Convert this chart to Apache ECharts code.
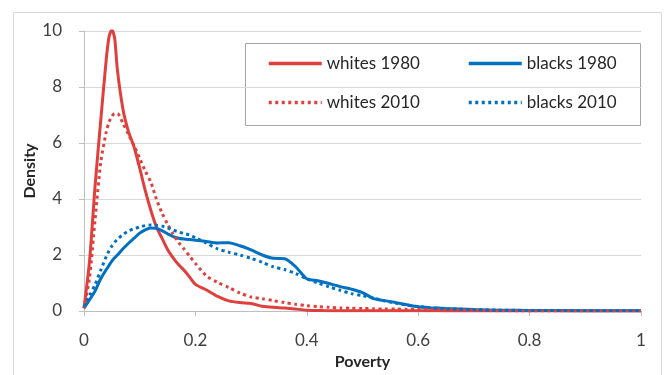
<!DOCTYPE html>
<html>
<head>
<meta charset="utf-8">
<script src="https://cdn.jsdelivr.net/npm/echarts@6/dist/echarts.min.js"></script>
<style>
html,body{margin:0;padding:0;background:#fff;}
#chart{width:664px;height:375px;}
</style>
</head>
<body>
<div id="chart"></div>
<script>
const povertyX = [0,0.01,0.02,0.03,0.04,0.045,0.05,0.055,0.06,0.07,0.08,0.09,0.10,0.11,0.12,0.13,0.14,0.15,0.16,0.17,0.18,0.19,0.20,0.22,0.24,0.26,0.28,0.30,0.32,0.34,0.36,0.38,0.40,0.42,0.44,0.46,0.48,0.50,0.52,0.54,0.56,0.58,0.60,0.62,0.65,0.70,0.75,0.80,0.90,1.0];
const whites1980 = [0.1,1.8,4.5,6.8,9.0,9.8,10.05,9.75,8.6,7.2,6.4,5.85,5.1,4.3,3.6,3.0,2.6,2.2,1.9,1.65,1.45,1.2,0.95,0.75,0.52,0.36,0.3,0.27,0.17,0.13,0.11,0.07,0.03,0.02,0.01,0.01,0.01,0.01,0.01,0.01,0.01,0.01,0.01,0.01,0,0,0,0,0,0];
const blacks1980 = [0.1,0.4,0.72,1.15,1.48,1.63,1.78,1.9,2.0,2.22,2.42,2.6,2.78,2.9,2.96,2.95,2.87,2.76,2.66,2.6,2.57,2.55,2.53,2.48,2.43,2.44,2.33,2.18,2.0,1.88,1.87,1.58,1.15,1.08,0.98,0.87,0.78,0.66,0.44,0.37,0.3,0.22,0.15,0.12,0.09,0.05,0.03,0.02,0.01,0.01];
const whites2010 = [0.1,1.2,3.3,5.3,6.4,6.75,6.95,7.05,7.05,6.7,6.3,5.9,5.45,5.0,4.6,4.0,3.5,3.1,2.75,2.45,2.2,1.95,1.7,1.25,1.02,0.84,0.64,0.5,0.44,0.37,0.3,0.24,0.19,0.16,0.13,0.11,0.1,0.09,0.08,0.07,0.07,0.06,0.06,0.05,0.04,0.02,0.01,0,0,0];
const blacks2010 = [0.15,0.55,0.95,1.45,1.95,2.15,2.32,2.45,2.56,2.73,2.86,2.94,3.0,3.05,3.07,3.06,3.03,2.97,2.89,2.82,2.77,2.71,2.62,2.42,2.22,2.1,2.0,1.88,1.74,1.58,1.48,1.34,1.15,1.0,0.86,0.74,0.62,0.55,0.46,0.36,0.28,0.21,0.16,0.12,0.08,0.05,0.03,0.02,0.01,0.01];
const seriesNames = ['whites 1980','blacks 1980','whites 2010','blacks 2010'];
const xTicks = [0,0.2,0.4,0.6,0.8,1];
const yTicks = [0,2,4,6,8,10];

const RED = '#E0403D', BLUE = '#0070C0';
const FONT = 'Lato';
const pairs = arr => povertyX.map((x,i)=>[x, arr[i]]);
function mk(name, arr, color, dotted){
  return {
    name, type:'line', data:pairs(arr), showSymbol:false, symbol:'none', smooth:0.25,
    lineStyle:{color, width:3, type: dotted ? [3,3.5] : 'solid', cap:'butt'},
    itemStyle:{color}, z: dotted ? 3 : 2, silent:true
  };
}
const legendBase = {orient:'vertical', top:50, itemWidth:53, itemHeight:14, itemGap:22,
  itemStyle:{opacity:0, borderWidth:0},
  lineStyle:{width:3.5},
  textStyle:{fontFamily:FONT, fontSize:17, color:'#262626'}, selectedMode:false};
const chart = echarts.init(document.getElementById('chart'), null, {renderer:'canvas'});
chart.setOption({
  animation:false,
  backgroundColor:'#fff',
  textStyle:{fontFamily:FONT},
  grid:{left:84, right:23, top:31, bottom:64, containLabel:false},
  xAxis:{
    type:'value', min:0, max:1, interval:0.2,
    name:'Poverty', nameLocation:'middle', nameGap:43, nameMoveOverlap:false,
    nameTextStyle:{fontFamily:FONT, fontSize:16, fontWeight:'bold', color:'#262626'},
    axisLine:{show:true, lineStyle:{color:'#bfbfbf', width:1}},
    axisTick:{show:true, length:5, lineStyle:{color:'#bfbfbf'}},
    axisLabel:{fontFamily:FONT, fontSize:17, color:'#404040', margin:21, formatter:v=>String(+v.toFixed(1))},
    splitLine:{show:false}
  },
  yAxis:{
    type:'value', min:0, max:10, interval:2,
    name:'Density', nameLocation:'middle', nameGap:46, nameMoveOverlap:false,
    nameTextStyle:{fontFamily:FONT, fontSize:16, fontWeight:'bold', color:'#262626'},
    axisLine:{show:true, lineStyle:{color:'#bfbfbf', width:1}},
    axisTick:{show:true, length:5, lineStyle:{color:'#bfbfbf'}},
    axisLabel:{fontFamily:FONT, fontSize:17, color:'#404040', margin:22},
    splitLine:{show:true, lineStyle:{color:'#d9d9d9', width:1}}
  },
  legend:[
    Object.assign({data:[seriesNames[0], seriesNames[2]], left:262}, legendBase),
    Object.assign({data:[seriesNames[1], seriesNames[3]], left:462}, legendBase)
  ],
  graphic:[
    {type:'rect', shape:{x:13.5, y:12.5, width:648, height:420}, style:{fill:'none', stroke:'#d9d9d9', lineWidth:1}, silent:true, z:-1},
    {type:'rect', shape:{x:245.5, y:43.5, width:395, height:82}, style:{fill:'none', stroke:'#a6a6a6', lineWidth:1}, silent:true}
  ],
  series:[
    mk(seriesNames[0], whites1980, RED, false),
    mk(seriesNames[1], blacks1980, BLUE, false),
    mk(seriesNames[2], whites2010, RED, true),
    mk(seriesNames[3], blacks2010, BLUE, true)
  ]
});
</script>
</body>
</html>
